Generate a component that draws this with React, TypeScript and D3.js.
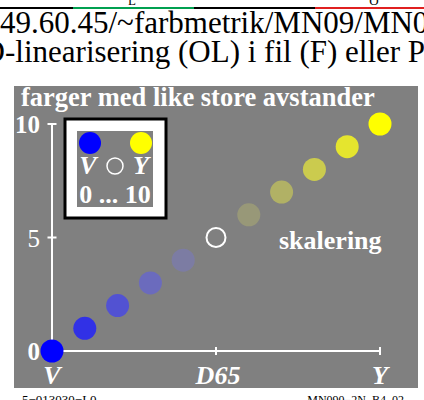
import React from "react";
import * as d3 from "d3";

const steps = [0, 1, 2, 3, 4, 5, 6, 7, 8, 9, 10];
const stepValues = [0, 1, 2, 3, 4, 5, 6, 7, 8, 9, 10];
const stepColors = [
  "#0000ff", "#3131e6", "#5252d2", "#6b6bbd", "#7c7ca3", "none",
  "#989878", "#b1b165", "#cbcb4e", "#e5e52e", "#ffff00",
];
const xTickValues = [0, 5, 10];
const xTickLabels = ["V", "D65", "Y"];
const yTickValues = [0, 5, 10];
const yTickLabels = ["0", "5", "10"];

const W = 424;
const H = 400;
const serif = "'Liberation Serif', 'Times New Roman', serif";

export default function App() {
  const x = d3.scaleLinear().domain([0, 10]).range([52, 380]);
  const y = d3.scaleLinear().domain([0, 10]).range([351, 124]);
  const r = 11.5;

  return (
    <svg
      width={W}
      height={H}
      viewBox={`0 0 ${W} ${H}`}
      style={{ position: "absolute", left: 0, top: 0, background: "#fff" }}
      fontFamily={serif}
    >
      {/* top colored rule */}
      <line x1={0} x2={73} y1={8} y2={8} stroke="#000" strokeWidth={2} />
      <line x1={73} x2={194} y1={8} y2={8} stroke="#00a050" strokeWidth={2} />
      <line x1={194} x2={315} y1={8} y2={8} stroke="#000" strokeWidth={2} />
      <line x1={315} x2={424} y1={8} y2={8} stroke="#e02020" strokeWidth={2} />
      <text x={132} y={5} fontSize={13} textAnchor="middle" fill="#000">L</text>
      <text x={374} y={5} fontSize={13} textAnchor="middle" fill="#000">O</text>

      {/* header lines */}
      <text x={0} y={33} fontSize={31} fill="#000">49.60.45/~farbmetrik/MN09/MN09L0NP.PDF</text>
      <text x={5} y={62} fontSize={31} fill="#000" textAnchor="end">ingen 3D</text>
      <text x={5} y={62} fontSize={31} fill="#000">-linearisering (OL) i fil (F) eller PS-oppstart (S)</text>

      {/* gray panel */}
      <rect x={14} y={86} width={404} height={302} fill="#808080" />

      <text x={21} y={106} fontSize={26.5} fontWeight="bold" fill="#fff">
        farger med like store avstander
      </text>

      {/* y axis */}
      <line x1={x(0)} x2={x(0)} y1={y(0)} y2={y(10)} stroke="#fff" strokeWidth={2} />
      {yTickValues.filter((v) => v > 0).map((v) => (
        <line key={"yt" + v} x1={x(0) - 4.5} x2={x(0) + 4.5} y1={y(v)} y2={y(v)} stroke="#fff" strokeWidth={2} />
      ))}
      {yTickValues.map((v, i) => (
        <text
          key={"yl" + v}
          x={40}
          y={y(v) + 9}
          fontSize={25}
          fontWeight={v === 5 ? "normal" : "bold"}
          textAnchor="end"
          fill="#fff"
        >
          {yTickLabels[i]}
        </text>
      ))}

      {/* x axis */}
      <line x1={x(0)} x2={x(10)} y1={y(0)} y2={y(0)} stroke="#fff" strokeWidth={2} />
      {xTickValues.filter((v) => v > 0).map((v) => (
        <line key={"xt" + v} x1={x(v)} x2={x(v)} y1={y(0) - 4} y2={y(0) + 4} stroke="#fff" strokeWidth={2} />
      ))}
      {xTickValues.map((v, i) => (
        <text
          key={"xl" + v}
          x={x(v) + (i === 1 ? 2 : 0)}
          y={384}
          fontSize={26}
          fontWeight="bold"
          fontStyle="italic"
          textAnchor="middle"
          fill="#fff"
        >
          {xTickLabels[i]}
        </text>
      ))}

      {/* dots */}
      {steps.map((s, i) =>
        stepColors[i] === "none" ? (
          <circle key={"d" + s} cx={x(s)} cy={y(stepValues[i])} r={9.5} fill="none" stroke="#fff" strokeWidth={2} />
        ) : (
          <circle key={"d" + s} cx={x(s)} cy={y(stepValues[i])} r={r} fill={stepColors[i]} />
        )
      )}

      <text x={279} y={249} fontSize={26} fontWeight="bold" fill="#fff">skalering</text>

      {/* legend box */}
      <rect x={65} y={119} width={101} height={99} fill="#fff" stroke="#000" strokeWidth={3} />
      <rect x={77} y={131} width={76} height={76} fill="#808080" />
      <circle cx={90} cy={143} r={11} fill={stepColors[0]} />
      <circle cx={141} cy={143} r={11} fill={stepColors[10]} />
      <text x={88} y={174} fontSize={26} fontWeight="bold" fontStyle="italic" textAnchor="middle" fill="#fff">V</text>
      <circle cx={115} cy={166} r={8} fill="none" stroke="#fff" strokeWidth={1.5} />
      <text x={141} y={174} fontSize={26} fontWeight="bold" fontStyle="italic" textAnchor="middle" fill="#fff">Y</text>
      <text x={115} y={203} fontSize={26} fontWeight="bold" textAnchor="middle" fill="#fff">0 ... 10</text>

      {/* footer */}
      <text x={22} y={404} fontSize={13} fill="#000">5−013030−L0</text>
      <text x={404} y={404} fontSize={12} textAnchor="end" fill="#000">MN090−2N_B4_02</text>
    </svg>
  );
}
